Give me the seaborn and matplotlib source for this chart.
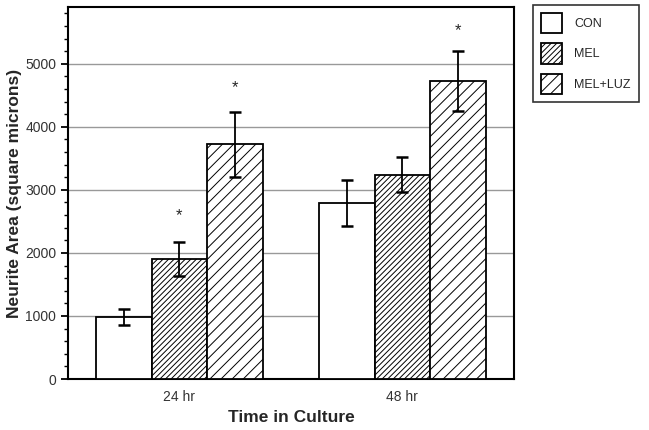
import numpy as np
import pandas as pd
import matplotlib
matplotlib.use("Agg")
import matplotlib.pyplot as plt
import seaborn as sns
from matplotlib.ticker import MultipleLocator, FixedLocator

times = ["24 hr", "48 hr"]
groups = ["CON", "MEL", "MEL+LUZ"]
means = {"CON": [985, 2790], "MEL": [1900, 3240], "MEL+LUZ": [3720, 4730]}
errors = {"CON": [125, 370], "MEL": [270, 280], "MEL+LUZ": [520, 480]}
stars = {"MEL": [2590, None], "MEL+LUZ": [4620, 5520]}
hatches = {"CON": "", "MEL": "//////", "MEL+LUZ": "///"}

rows = []
for g in groups:
    for t, v in zip(times, means[g]):
        rows.append({"time": t, "group": g, "area": v})
df = pd.DataFrame(rows)

sns.set_style("white")
plt.rcParams["font.family"] = ["Liberation Sans", "DejaVu Sans"]
plt.rcParams["hatch.linewidth"] = 0.7

fig = plt.figure(figsize=(6.49, 4.30), dpi=100)
ax = fig.add_axes([0.1048, 0.1186, 0.687, 0.865])

sns.barplot(data=df, x="time", y="area", hue="group", order=times, hue_order=groups,
            palette=["white"] * 3, edgecolor="black", linewidth=1.3, width=0.75,
            errorbar=None, ax=ax, zorder=3)

for cont, g in zip(ax.containers, groups):
    for i, p in enumerate(cont.patches):
        p.set_hatch(hatches[g])
        p.set_edgecolor("black")
        cx = p.get_x() + p.get_width() / 2
        ax.errorbar(cx, means[g][i], yerr=errors[g][i], color="black", lw=1.3,
                    capsize=4, capthick=1.8, zorder=4)
        if g in stars and stars[g][i] is not None:
            ax.text(cx, stars[g][i], "*", ha="center", va="center", fontsize=12, zorder=5)

ax.set_xlim(-0.5, 1.5)
ax.set_ylim(0, 5900)
ax.yaxis.set_major_locator(MultipleLocator(1000))
ax.yaxis.set_minor_locator(MultipleLocator(200))
ax.grid(axis="y", which="major", color="#999999", lw=1, zorder=0)
ax.set_axisbelow(True)

ax.xaxis.set_major_locator(FixedLocator([-0.5, 0.5, 1.5]))
ax.xaxis.set_minor_locator(FixedLocator([0, 1]))
ax.set_xticklabels(["", "", ""])
ax.set_xticklabels(times, minor=True)
ax.tick_params(axis="x", which="major", direction="out", length=5, width=1.3, color="black")
ax.tick_params(axis="x", which="minor", length=0, labelsize=10, labelcolor="#333333", pad=8)
ax.tick_params(axis="y", which="major", direction="out", length=5, width=1.3, color="black",
               labelsize=10, labelcolor="#333333", left=True)
ax.tick_params(axis="y", which="minor", direction="out", length=3, width=1.0, color="black", left=True)

for s in ax.spines.values():
    s.set_color("black")
    s.set_linewidth(1.5)

ax.set_xlabel("Time in Culture", fontsize=12.5, fontweight="bold", labelpad=4)
ax.set_ylabel("Neurite Area (square microns)", fontsize=12.5, fontweight="bold", labelpad=2)

leg = ax.legend(loc="upper left", bbox_to_anchor=(1.042, 1.005), frameon=True, fancybox=False,
                edgecolor="black", fontsize=9, handlelength=1.7, handleheight=2.1,
                labelspacing=0.8, borderpad=0.65, handletextpad=1.0, borderaxespad=0)
leg.get_frame().set_linewidth(1.2)
for h, g in zip(leg.legend_handles, groups):
    h.set_edgecolor("black")
    h.set_linewidth(1.3)
    h.set_hatch(hatches[g])
    h.set_facecolor("white")

fig.savefig("out.png", dpi=100)
